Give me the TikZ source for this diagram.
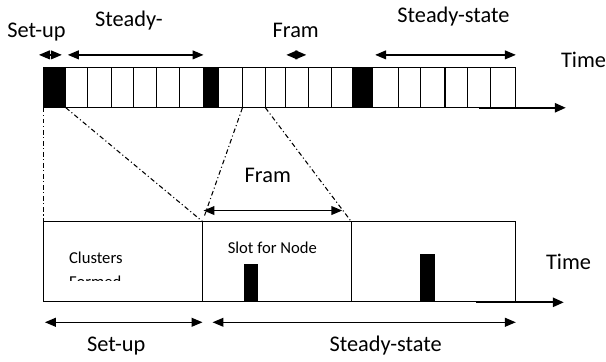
\documentclass[tikz,border=0pt]{standalone}
\usepackage{fontspec}
\setmainfont{Carlito}
\usetikzlibrary{arrows.meta}

\tikzset{
  big/.style={font=\fontsize{16.8}{20}\selectfont, inner sep=0, anchor=base west},
  small/.style={font=\fontsize{12.5}{15}\selectfont, inner sep=0, anchor=base west},
  span/.style={line width=1.1, {Triangle[length=8.2pt,width=6.6pt]}-{Triangle[length=8.2pt,width=6.6pt]}},
  axis/.style={line width=1.3, -{Triangle[length=8.2pt,width=7pt]}},
  dashdot/.style={line width=0.8, dash pattern=on 3.5pt off 2pt on 0.8pt off 2pt}
}

\begin{document}
\begin{tikzpicture}[x=0.75pt,y=0.75pt,yscale=-1,xscale=1]
%set diagram size to the reference
\path (0,0) rectangle (606,362);

%Shape: Black slots of the frame bar
\fill (44,68) rectangle (66,108);
\fill (203,68) rectangle (219,108);
\fill (353,68) rectangle (373,108);
%Shape: Rectangle (frame bar)
\draw [line width=0.8] (44,68) -- (517,68) -- (517,108) -- (44,108) -- cycle ;
%Straight Lines (cell borders)
\draw [line width=0.8] (66,68) -- (66,108) (88,68) -- (88,108) (112,68) -- (112,108) (134,68) -- (134,108) (157,68) -- (157,108) (180,68) -- (180,108) ;
\draw [line width=0.8] (219,68) -- (219,108) (243,68) -- (243,108) (266,68) -- (266,108) (286,68) -- (286,108) (309,68) -- (309,108) (332,68) -- (332,108) ;
\draw [line width=0.8] (373,68) -- (373,108) (399,68) -- (399,108) (421,68) -- (421,108) (446,68) -- (446,108) (469,68) -- (469,108) (492,68) -- (492,108) ;
%Straight Lines (time axis, top)
\draw [axis] (480,108) -- (567,108) ;

%Straight Lines (spans, top)
\draw [span] (39,55) -- (62,55) ;
\draw [span] (68,55) -- (204,55) ;
\draw [span] (287,55) -- (307,55) ;
\draw [span] (376,55) -- (517,55) ;

% Text Node
\draw (7,38) node [big] (setupTop) {Set-up};
% Text Node
\draw (95,27) node [big] (steadyTop) {Steady-};
% Text Node
\draw (273,38) node [big] (framTop) {Fram};
% Text Node
\draw (398,23) node [big] (steadyStateTop) {Steady-state};
% Text Node
\draw (562,68) node [big] (timeTop) {Time};

%Straight Lines (zoom guides)
\draw [dashdot] (44,108) -- (44,222) ;
\draw [dashdot] (66,108) -- (203,222) ;
\draw [dashdot] (243,108) -- (205,216) ;
\draw [dashdot] (266,108) -- (352,222) ;

%Straight Lines (frame span, middle)
\draw [span] (204,211) -- (343,211) ;
% Text Node
\draw (245,183) node [big] (framMid) {Fram};

%Shape: Rectangle (zoomed frame)
\draw [line width=0.8] (44,222) -- (517,222) -- (517,302) -- (44,302) -- cycle ;
\draw [line width=0.8] (203,222) -- (203,302) (352,222) -- (352,302) ;
%Shape: Node slots
\fill (245,265) rectangle (259,302);
\fill (421,255) rectangle (436,302);
%Straight Lines (time axis, bottom)
\draw [axis] (477,303) -- (565,303) ;

% Text Node
\draw (69,264) node [small] (clusters) {Clusters};
% Text Node (cut off by the box)
\begin{scope}
\clip (60,270) rectangle (140,281.5);
\draw (69,288.5) node [small] (formed) {Formed};
\end{scope}
% Text Node
\draw (228,254) node [small] (slotNode) {Slot for Node};
% Text Node
\draw (547,270) node [big] (timeBot) {Time};

%Straight Lines (spans, bottom)
\draw [span] (45,323) -- (203,323) ;
\draw [span] (213,323) -- (517,323) ;
% Text Node
\draw (87,352) node [big] (setupBot) {Set-up};
% Text Node
\draw (330,352) node [big] (steadyStateBot) {Steady-state};

\end{tikzpicture}
\end{document}
